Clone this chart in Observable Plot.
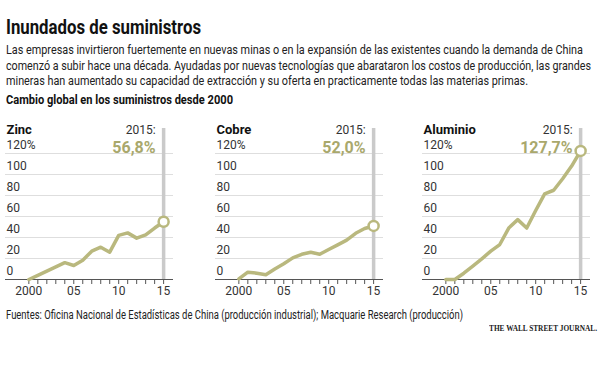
<!DOCTYPE html>
<html><head><meta charset="utf-8">
<script src="https://cdn.jsdelivr.net/npm/d3@7"></script>
<script src="https://cdn.jsdelivr.net/npm/@observablehq/plot@0.6"></script>
<style>
body{margin:0;background:#fff;}
#root{position:relative;width:600px;height:370px;overflow:hidden;font-family:Roboto,"Noto Sans",sans-serif;color:#222;}
.t{position:absolute;white-space:nowrap;transform-origin:0 50%;}
.panel{position:absolute;top:118px;width:200px;height:190px;}
.panel svg{max-width:none !important;}
</style></head><body>
<div id="root">
  <div class="t fit" data-w="195" style="left:6px;top:15px;font-size:21px;font-weight:bold;line-height:24px;color:#111;">Inundados de suministros</div>
  <div class="t fit" data-w="577" style="left:6px;top:42px;font-size:13px;line-height:16px;color:#222;">Las empresas invirtieron fuertemente en nuevas minas o en la expansión de las existentes cuando la demanda de China</div>
  <div class="t fit" data-w="585" style="left:6px;top:57.5px;font-size:13px;line-height:16px;color:#222;">comenzó a subir hace una década. Ayudadas por nuevas tecnologías que abarataron los costos de producción, las grandes</div>
  <div class="t fit" data-w="522" style="left:6px;top:73px;font-size:13px;line-height:16px;color:#222;">mineras han aumentado su capacidad de extracción y su oferta en practicamente todas las materias primas.</div>
  <div class="t fit" data-w="227" style="left:6px;top:92px;font-size:13px;font-weight:bold;line-height:16px;color:#111;">Cambio global en los suministros desde 2000</div>
  <div class="panel" id="p0" style="left:0px;"></div>
  <div class="panel" id="p1" style="left:210px;"></div>
  <div class="panel" id="p2" style="left:417px;"></div>
  <div class="t fit" data-w="457" style="left:6px;top:308px;font-size:12px;line-height:14px;color:#222;">Fuentes: Oficina Nacional de Estadísticas de China (producción industrial); Macquarie Research (producción)</div>
  <div class="t fit" data-w="108" style="left:489px;top:322px;font-size:9px;line-height:12px;font-family:'Liberation Serif','DejaVu Serif',serif;font-weight:bold;color:#222;">THE WALL STREET JOURNAL.</div>
</div>
<script>
const years = [2000,2001,2002,2003,2004,2005,2006,2007,2008,2009,2010,2011,2012,2013,2014,2015];
const zinc = [0,4,8,12,16,13.3,18.4,27,30.8,26,42,44.4,39.4,42.5,49,55];
const cobre = [0.5,7,6,4.5,10,15,20.6,24,26,24,28.6,33,37.5,44,48.6,51];
const aluminio = [0,0,6,12.7,19.7,27,33.3,49,57,49,65.7,81.6,85,96,108,122.5];
const metals = ["Zinc","Cobre","Aluminio"];
const finalLabels = ["56,8%","52,0%","127,7%"];
const yTicks = [0,20,40,60,80,100,120];
const xLabelYears = [2000,2005,2010,2015];
const xLabels = ["2000","05","10","15"];

const FONT = 'Roboto,"Noto Sans",sans-serif';
const LINE = "#b9b87e";
const LABEL = "#a9a86c";

function panel(title, values, label) {
  const data = years.map((y, i) => ({year: y, value: values[i]}));
  const last = data[data.length - 1];
  return Plot.plot({
    width: 200, height: 190,
    marginLeft: 5, marginRight: 27, marginTop: 35, marginBottom: 29,
    x: {domain: [1997.4, 2016.1], label: null},
    y: {domain: [0, 120], axis: null},
    style: {fontFamily: FONT, fontSize: "12px", color: "#333", background: "transparent", overflow: "visible"},
    marks: [
      Plot.ruleY(yTicks.filter(d => d > 0), {stroke: "#dedede", strokeWidth: 1}),
      Plot.text(yTicks, {y: d => d, frameAnchor: "left", lineAnchor: "middle", textAnchor: "start", dx: 1, dy: -8, fontSize: 12, fill: "#333",
        text: d => d === 120 ? "120%" : String(d)}),
      Plot.ruleX([last.year], {stroke: "#cacaca", strokeWidth: 3.5, insetTop: -25}),
      Plot.ruleY([0], {stroke: "#555", strokeWidth: 1.2}),
      Plot.axisX({ticks: years, tickSize: 5, tickPadding: 2, stroke: "#555", fill: "#333", fontSize: 12, label: null,
        tickFormat: d => { const i = xLabelYears.indexOf(d); return i >= 0 ? xLabels[i] : ""; }}),
      Plot.line(data, {x: "year", y: "value", stroke: LINE, strokeWidth: 3.5, strokeLinejoin: "round", strokeLinecap: "round"}),
      Plot.dot([last], {x: "year", y: "value", r: 5, fill: "white", stroke: LINE, strokeWidth: 2.5}),
      Plot.text([title], {frameAnchor: "top-left", lineAnchor: "middle", textAnchor: "start", dx: 1, dy: -24, fontSize: 13, fontWeight: "bold", fill: "#111"}),
      Plot.text([last], {x: "year", frameAnchor: "top", lineAnchor: "middle", text: d => d.year + ":", textAnchor: "end", dx: -8, dy: -23, fontSize: 12, fill: "#333"}),
      Plot.text([last], {x: "year", frameAnchor: "top", lineAnchor: "middle", text: () => label, textAnchor: "end", dx: -8, dy: -6, fontSize: 16, fontWeight: "bold", fill: LABEL})
    ]
  });
}

const seriesList = [zinc, cobre, aluminio];
metals.forEach((m, i) => {
  document.getElementById("p" + i).appendChild(panel(m, seriesList[i], finalLabels[i]));
});

// fit header/footer texts to the reference widths (condensed look)
document.querySelectorAll(".fit").forEach(el => {
  const w = el.getBoundingClientRect().width;
  const target = +el.dataset.w;
  if (w > 0) el.style.transform = `scaleX(${target / w})`;
});
</script>
</body></html>
